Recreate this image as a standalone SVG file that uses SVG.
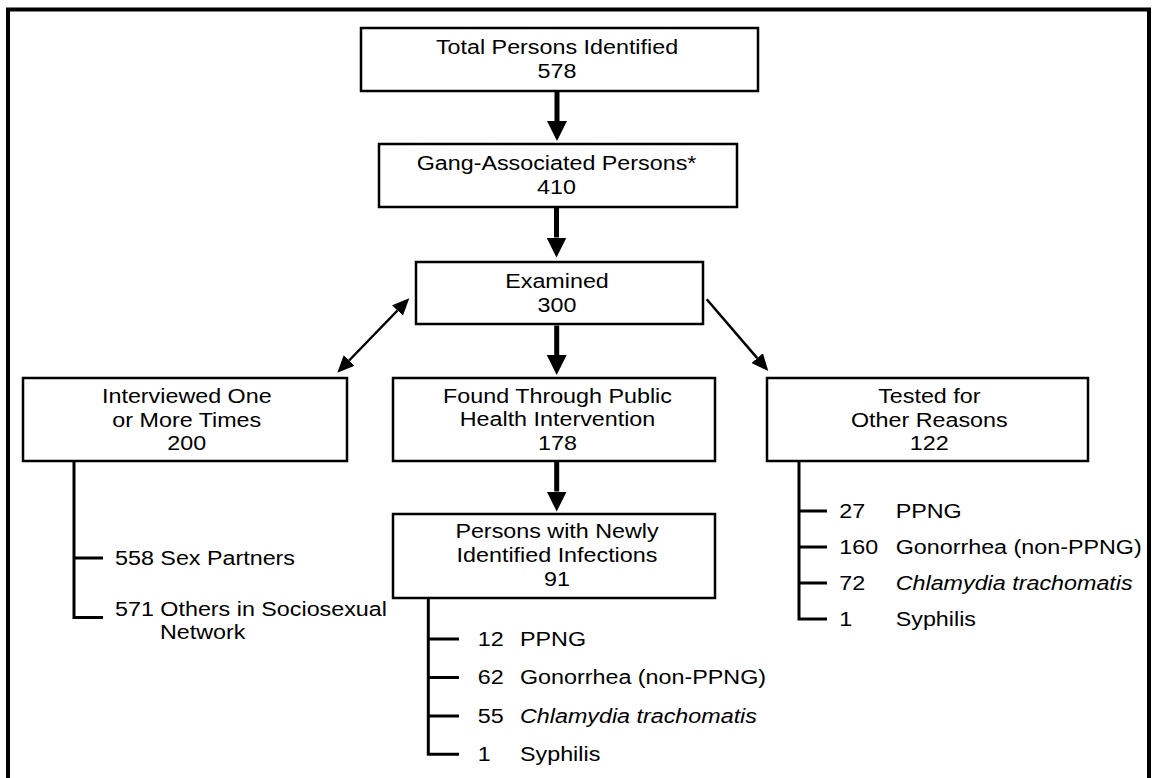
<svg xmlns="http://www.w3.org/2000/svg" width="1152" height="778" viewBox="0 0 1152 778">
<defs>
<style>
.box{fill:#fff;stroke:#000;stroke-width:2.5}
.t{font-family:"Liberation Sans",Arial,sans-serif;font-size:21px;fill:#000}
.c{text-anchor:middle}
.it{font-style:italic}
.thick{stroke:#000;stroke-width:5;fill:none}
.thin{stroke:#000;stroke-width:2.5;fill:none}
.tree{stroke:#000;stroke-width:3;fill:none}
</style>
<marker id="bigHead" markerUnits="userSpaceOnUse" markerWidth="20" markerHeight="20" refX="0" refY="10" orient="auto">
<path d="M0,0 L20,10 L0,20 z" fill="#000"/>
</marker>
<marker id="smallHead" markerUnits="userSpaceOnUse" markerWidth="17" markerHeight="15" refX="0" refY="7.5" orient="auto-start-reverse">
<path d="M0,0 L17,7.5 L0,15 z" fill="#000"/>
</marker>
</defs>
<rect x="8" y="9.5" width="1141" height="800" fill="#fff" stroke="#000" stroke-width="4"/>

<g id="connectors">
<line class="thick" x1="557" y1="92" x2="557" y2="121" marker-end="url(#bigHead)"/>
<line class="thick" x1="556.5" y1="208" x2="556.5" y2="237.5" marker-end="url(#bigHead)"/>
<line class="thick" x1="556.7" y1="325.5" x2="556.7" y2="355" marker-end="url(#bigHead)"/>
<line class="thick" x1="556.7" y1="462" x2="556.7" y2="491.5" marker-end="url(#bigHead)"/>
<line class="thin" x1="349.1" y1="360.5" x2="397.5" y2="310.5" marker-start="url(#smallHead)" marker-end="url(#smallHead)"/>
<line class="thin" x1="706.7" y1="299.3" x2="757.2" y2="358.1" marker-end="url(#smallHead)"/>
<path class="tree" d="M74,462 V617.5 H103 M74,558 H103"/>
<path class="tree" d="M428.3,599 V754.3 H459 M428.3,639 H459 M428.3,677.5 H459 M428.3,716 H459"/>
<path class="tree" d="M799,462 V619 H827 M799,511 H827 M799,547 H827 M799,583 H827"/>
</g>

<g id="total">
<rect class="box" x="361" y="28" width="397" height="63"/>
<text class="t c" transform="translate(557,0) scale(1.11,1)" x="0" y="54">Total Persons Identified</text>
<text class="t c" transform="translate(557,0) scale(1.11,1)" x="0" y="78">578</text>
</g>

<g id="gang">
<rect class="box" x="379" y="144" width="358" height="63"/>
<text class="t c" transform="translate(556.5,0) scale(1.11,1)" x="0" y="170">Gang-Associated Persons*</text>
<text class="t c" transform="translate(556.5,0) scale(1.11,1)" x="0" y="194">410</text>
</g>

<g id="examined">
<rect class="box" x="416" y="262" width="287" height="62"/>
<text class="t c" transform="translate(557,0) scale(1.11,1)" x="0" y="288">Examined</text>
<text class="t c" transform="translate(557,0) scale(1.11,1)" x="0" y="312">300</text>
</g>

<g id="interviewed">
<rect class="box" x="23" y="378" width="324" height="83"/>
<text class="t c" transform="translate(186.8,0) scale(1.11,1)" x="0" y="403">Interviewed One</text>
<text class="t c" transform="translate(186.8,0) scale(1.11,1)" x="0" y="427">or More Times</text>
<text class="t c" transform="translate(186.8,0) scale(1.11,1)" x="0" y="450">200</text>
</g>

<g id="found">
<rect class="box" x="393" y="378" width="322" height="83"/>
<text class="t c" transform="translate(557.5,0) scale(1.11,1)" x="0" y="403">Found Through Public</text>
<text class="t c" transform="translate(557.5,0) scale(1.11,1)" x="0" y="426.5">Health Intervention</text>
<text class="t c" transform="translate(557.5,0) scale(1.11,1)" x="0" y="450">178</text>
</g>

<g id="tested">
<rect class="box" x="767" y="378" width="321" height="83"/>
<text class="t c" transform="translate(929.3,0) scale(1.11,1)" x="0" y="403">Tested for</text>
<text class="t c" transform="translate(929.3,0) scale(1.11,1)" x="0" y="427">Other Reasons</text>
<text class="t c" transform="translate(929.3,0) scale(1.11,1)" x="0" y="450">122</text>
</g>

<g id="newly">
<rect class="box" x="393" y="514" width="322" height="84"/>
<text class="t c" transform="translate(557,0) scale(1.11,1)" x="0" y="538.5">Persons with Newly</text>
<text class="t c" transform="translate(557,0) scale(1.11,1)" x="0" y="562.5">Identified Infections</text>
<text class="t c" transform="translate(557,0) scale(1.11,1)" x="0" y="586">91</text>
</g>

<g id="interviewed-list">
<text class="t" transform="translate(115,0) scale(1.11,1)" x="0" y="565">558 Sex Partners</text>
<text class="t" transform="translate(115,0) scale(1.11,1)" x="0" y="616">571 Others in Sociosexual</text>
<text class="t" transform="translate(160,0) scale(1.11,1)" x="0" y="639.5">Network</text>
</g>

<g id="newly-list">
<text class="t" transform="translate(477.7,0) scale(1.11,1)" x="0" y="646">12</text>
<text class="t" transform="translate(520,0) scale(1.11,1)" x="0" y="646">PPNG</text>
<text class="t" transform="translate(477.7,0) scale(1.11,1)" x="0" y="684.5">62</text>
<text class="t" transform="translate(520,0) scale(1.11,1)" x="0" y="684.5">Gonorrhea (non-PPNG)</text>
<text class="t" transform="translate(477.7,0) scale(1.11,1)" x="0" y="723">55</text>
<text class="t it" transform="translate(520,0) scale(1.11,1)" x="0" y="723">Chlamydia trachomatis</text>
<text class="t" transform="translate(477.7,0) scale(1.11,1)" x="0" y="761.5">1</text>
<text class="t" transform="translate(520,0) scale(1.11,1)" x="0" y="761.5">Syphilis</text>
</g>

<g id="tested-list">
<text class="t" transform="translate(839.3,0) scale(1.11,1)" x="0" y="518">27</text>
<text class="t" transform="translate(895.7,0) scale(1.11,1)" x="0" y="518">PPNG</text>
<text class="t" transform="translate(839.3,0) scale(1.11,1)" x="0" y="554">160</text>
<text class="t" transform="translate(895.7,0) scale(1.11,1)" x="0" y="554">Gonorrhea (non-PPNG)</text>
<text class="t" transform="translate(839.3,0) scale(1.11,1)" x="0" y="590">72</text>
<text class="t it" transform="translate(895.7,0) scale(1.11,1)" x="0" y="590">Chlamydia trachomatis</text>
<text class="t" transform="translate(839.3,0) scale(1.11,1)" x="0" y="626">1</text>
<text class="t" transform="translate(895.7,0) scale(1.11,1)" x="0" y="626">Syphilis</text>
</g>
</svg>
